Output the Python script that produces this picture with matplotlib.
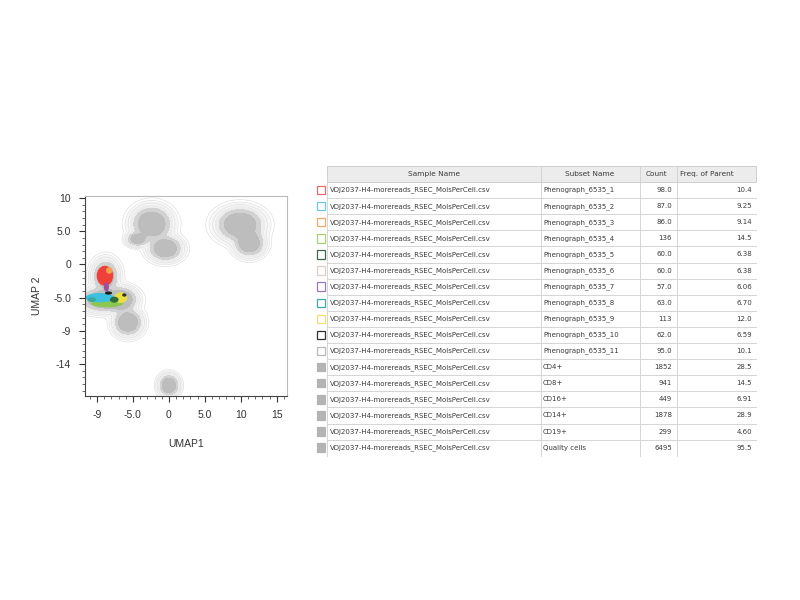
import numpy as np
import matplotlib
matplotlib.use("Agg")
import matplotlib.pyplot as plt
from matplotlib.patches import Ellipse, Rectangle

# gray UMAP populations: centre x, centre y, spread x, spread y, weight
gray_x = [-2.4, -4.4, -0.5, 9.9, 11.2, -5.7, 0.0, -8.8, -6.6, -8.8]
gray_y = [6.1, 3.8, 2.4, 6.0, 3.2, -8.7, -18.2, -5.3, -5.3, -1.8]
gray_sx = [1.2, 0.63, 1.0, 1.4, 0.9, 0.85, 0.6, 1.6, 0.9, 0.8]
gray_sy = [1.15, 0.45, 0.8, 1.1, 0.85, 0.87, 0.7, 0.8, 0.8, 1.1]
gray_w = [1.0, 0.8, 1.0, 1.0, 1.0, 1.0, 1.0, 1.0, 0.9, 0.8]

# Phenograph clusters drawn on top: x, y, width, height, colour
pheno_x = [-8.6, -9.6, -10.7, -6.7, -7.6, -8.4, -8.9, -8.3, -8.7, -6.2]
pheno_y = [-5.9, -5.0, -5.3, -5.0, -5.3, -4.3, -1.7, -0.9, -3.4, -4.6]
pheno_w = [4.4, 4.0, 1.2, 1.8, 1.2, 1.0, 2.3, 0.9, 0.7, 0.6]
pheno_h = [1.1, 1.4, 0.7, 1.6, 0.9, 0.5, 3.0, 1.0, 1.4, 0.5]
pheno_c = ["#8cc850", "#3cc0e0", "#3aa99f", "#e8e040", "#2f6a3a",
           "#202020", "#f0403a", "#f5a050", "#9a4fa0", "#303030"]

# table contents
sample_name = "VDJ2037-H4-morereads_RSEC_MolsPerCell.csv"
subsets = ["Phenograph_6535_1", "Phenograph_6535_2", "Phenograph_6535_3",
           "Phenograph_6535_4", "Phenograph_6535_5", "Phenograph_6535_6",
           "Phenograph_6535_7", "Phenograph_6535_8", "Phenograph_6535_9",
           "Phenograph_6535_10", "Phenograph_6535_11", "CD4+", "CD8+",
           "CD16+", "CD14+", "CD19+", "Quality cells"]
counts = ["98.0", "87.0", "86.0", "136", "60.0", "60.0", "57.0", "63.0",
          "113", "62.0", "95.0", "1852", "941", "449", "1878", "299", "6495"]
freqs = ["10.4", "9.25", "9.14", "14.5", "6.38", "6.38", "6.06", "6.70",
         "12.0", "6.59", "10.1", "28.5", "14.5", "6.91", "28.9", "4.60", "95.5"]
box_colors = ["#e86a6a", "#6cc8e8", "#f0a868", "#a8d070", "#406848",
              "#dccfc8", "#9a7ab0", "#40a8a0", "#eee070", "#303030",
              "#b8b8b8"]

fig = plt.figure(figsize=(8, 6), dpi=100)

# ---- UMAP plot ----
ax = fig.add_axes([0.106, 0.34, 0.2525, 0.3333])
xx, yy = np.meshgrid(np.linspace(-12, 17, 500), np.linspace(-20, 11, 500))
dens = np.zeros_like(xx)
for cx, cy, sx, sy, w in zip(gray_x, gray_y, gray_sx, gray_sy, gray_w):
    dens += w * np.exp(-0.5 * (((xx - cx) / sx) ** 2 + ((yy - cy) / sy) ** 2))
ax.contourf(xx, yy, dens, levels=[0.015, 0.05, 0.12, 0.3, 50],
            colors=["#f6f6f6", "#ececec", "#d2d2d2", "#bdbdbd"])
ax.contour(xx, yy, dens, levels=[0.003, 0.009, 0.025],
           colors="#e0e0e0", linewidths=0.5)

for x, y, w, h, c in zip(pheno_x, pheno_y, pheno_w, pheno_h, pheno_c):
    ax.add_patch(Ellipse((x, y), w, h, color=c, lw=0))

tick_font = "Liberation Sans"
ax.set_xlim(-11.7, 16.4)
ax.set_ylim(-19.8, 10.3)
ax.set_xticks([-10, -5, 0, 5, 10, 15])
ax.set_xticklabels(["-9", "-5.0", "0", "5.0", "10", "15"], family=tick_font)
ax.set_yticks([10, 5, 0, -5, -10, -15])
ax.set_yticklabels(["10", "5.0", "0", "-5.0", "-9", "-14"], family=tick_font)
ax.set_xticks(np.arange(-11, 17, 1), minor=True)
ax.set_yticks(np.arange(-19, 11, 1), minor=True)
ax.tick_params(which="major", length=4, width=0.8, labelsize=7.5,
               colors="#333333", pad=6)
ax.tick_params(which="minor", length=2, width=0.6, colors="#555555")
for s in ["top", "right"]:
    ax.spines[s].set_color("#bbbbbb")
    ax.spines[s].set_linewidth(0.8)
for s in ["left", "bottom"]:
    ax.spines[s].set_color("#444444")
    ax.spines[s].set_linewidth(0.8)
ax.set_xlabel("UMAP1", fontsize=7.5, color="#333333", labelpad=14,
              family=tick_font)
ax.set_ylabel("UMAP 2", fontsize=7.5, color="#333333", labelpad=8,
              family=tick_font)

# ---- table (pixel coordinates) ----
tb = fig.add_axes([0, 0, 1, 1])
tb.set_xlim(0, 800)
tb.set_ylim(600, 0)
tb.axis("off")

col_edges = [327, 541, 640, 677, 756]
head_top, head_bot = 166, 182
row_h = 16.1
line_c = "#cfcfcf"
txt_c = "#3a3a3a"
tfont = "DejaVu Sans"

tb.add_patch(Rectangle((col_edges[0], head_top), col_edges[-1] - col_edges[0],
                       head_bot - head_top, facecolor="#ececec",
                       edgecolor="#c8c8c8", lw=0.6))
heads = ["Sample Name", "Subset Name", "Count", "Freq. of Parent"]
head_x = [434, 590, 656, 680]
head_ha = ["center", "center", "center", "left"]
for h, hx, ha in zip(heads, head_x, head_ha):
    tb.text(hx, (head_top + head_bot) / 2, h, ha=ha, va="center",
            fontsize=5.3, color=txt_c, family=tfont)

n = len(subsets)
bottom = head_bot + n * row_h
for e in col_edges[:-1]:
    tb.plot([e, e], [head_top, bottom], color=line_c, lw=0.6)
for i in range(n):
    top = head_bot + i * row_h
    yc = top + row_h / 2
    if i < n - 1:
        tb.plot([col_edges[0], col_edges[-1]], [top + row_h, top + row_h],
                color=line_c, lw=0.6)
    if i < len(box_colors):
        tb.add_patch(Rectangle((317, yc - 4.2), 8, 8.4, facecolor="white",
                               edgecolor=box_colors[i], lw=0.9))
    else:
        tb.add_patch(Rectangle((317, yc - 4.2), 8, 8.4, facecolor="#b4b4b4",
                               edgecolor="#b4b4b4", lw=0.9))
    tb.text(330, yc, sample_name, ha="left", va="center", fontsize=5.0,
            color=txt_c, family=tfont)
    tb.text(543, yc, subsets[i], ha="left", va="center", fontsize=5.0,
            color=txt_c, family=tfont)
    tb.text(672, yc, counts[i], ha="right", va="center", fontsize=5.0,
            color=txt_c, family=tfont)
    tb.text(752, yc, freqs[i], ha="right", va="center", fontsize=5.0,
            color=txt_c, family=tfont)

fig.savefig("out.png", dpi=100, facecolor="white")
